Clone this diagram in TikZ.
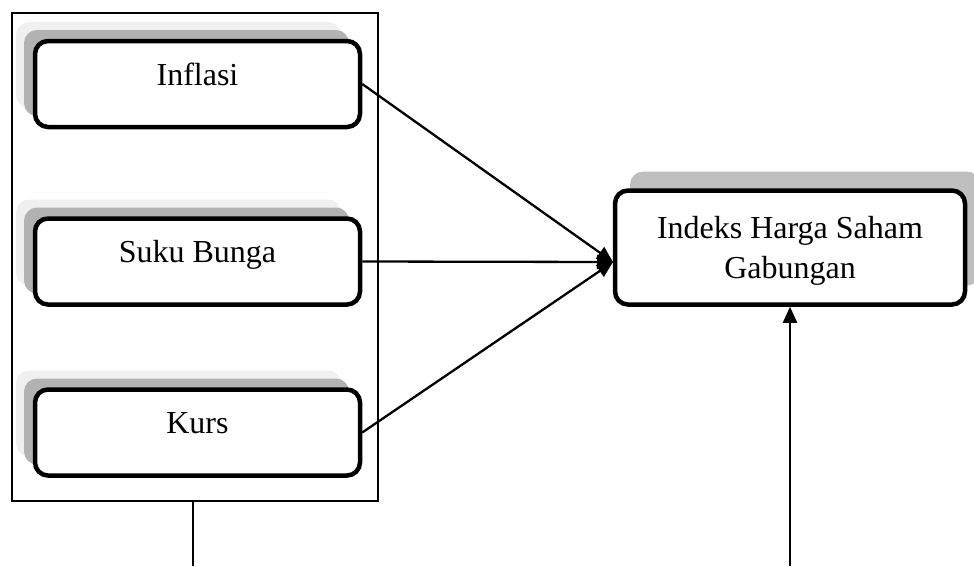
\documentclass[tikz,border=0pt]{standalone}
\usepackage{fontspec}
\setmainfont{Liberation Serif}
\usetikzlibrary{shadows,arrows.meta}
\begin{document}
\begin{tikzpicture}[x=1pt,y=-1pt,
  every node/.style={font=\fontsize{32}{40}\selectfont},
  varbox/.style={draw=black,line width=4.5pt,rounded corners=13pt,fill=white,
    minimum width=325pt,minimum height=86pt,inner sep=0pt,
    text height=22pt,text depth=20pt,
    general shadow={fill=black!6,shadow xshift=-19pt,shadow yshift=19pt},
    general shadow={fill=black!30,shadow xshift=-11pt,shadow yshift=11pt}},
  mainbox/.style={draw=black,line width=4.5pt,rounded corners=13pt,fill=white,
    minimum width=350pt,minimum height=114pt,inner sep=0pt,align=center,
    text depth=0pt,
    general shadow={fill=black!25,shadow xshift=15pt,shadow yshift=19pt}},
  groupbox/.style={draw=black,line width=1.6pt,minimum width=366pt,minimum height=488pt,inner sep=0pt},
  conn/.style={line width=2.3pt,-{Triangle[length=16pt,width=14pt]}},
  plain/.style={line width=2.3pt}]
\useasboundingbox (0,0) rectangle (974,566);
\node[groupbox] (group) at (195,257) {};
\node[varbox] (inf) at (197.5,84) {Inflasi};
\node[varbox] (suku) at (197.5,261.5) {Suku Bunga};
\node[varbox] (kurs) at (197.5,432.5) {Kurs};
\node[mainbox] (ihsg) at (790,247.5) {Indeks Harga Saham\\Gabungan};
\coordinate (tgt) at (613,262);
\coordinate (gbot) at (193,501);
\coordinate (gend) at (193,566);
\coordinate (bstart) at (790,566);
\draw[conn] (inf.east) -- (tgt);
\draw[conn] (suku.east) -- (tgt);
\draw[conn] (kurs.east) -- (tgt);
\draw[plain] (gbot) -- (gend);
\draw[conn] (bstart) -- (ihsg.south);
\end{tikzpicture}
\end{document}
